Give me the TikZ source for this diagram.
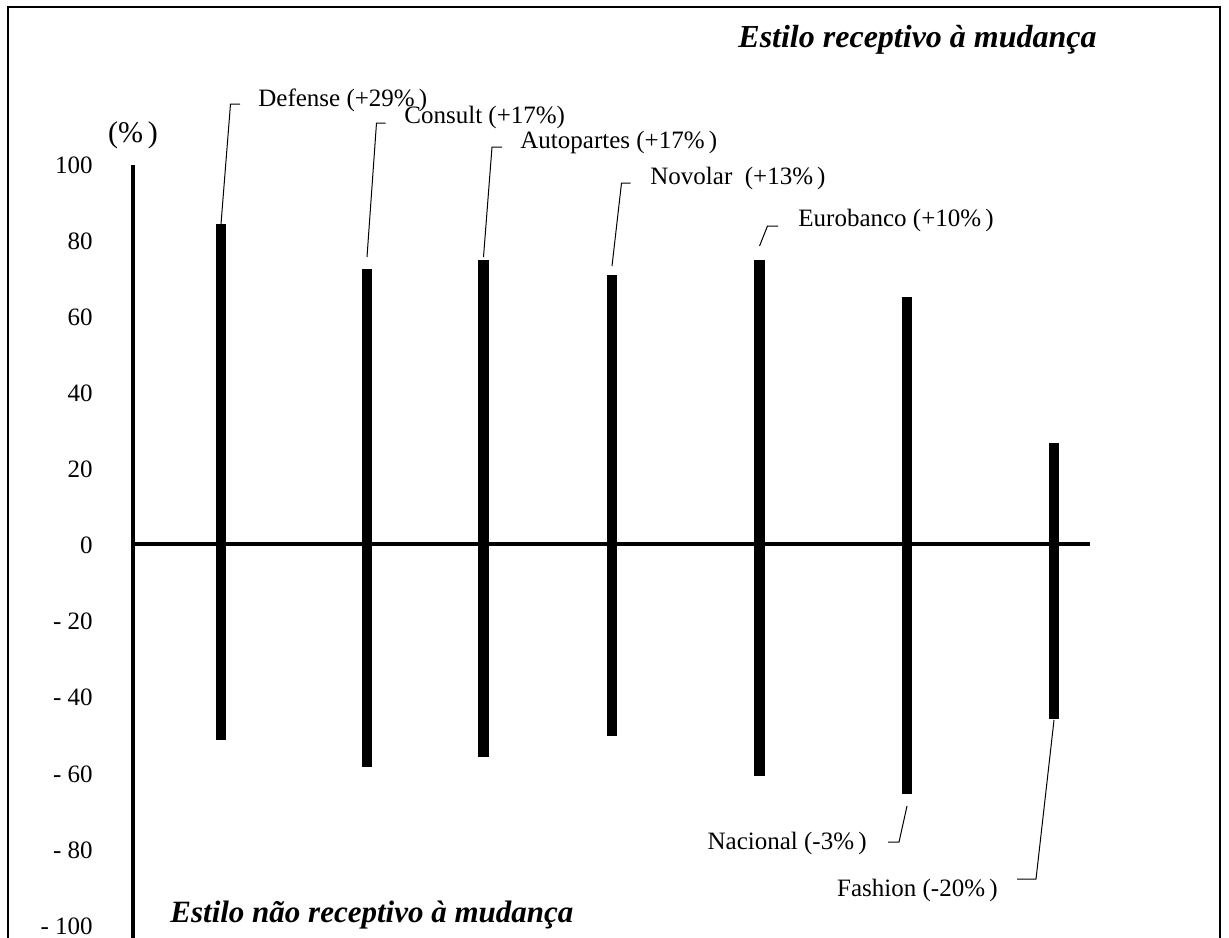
\documentclass[tikz,border=0pt]{standalone}
\usepackage{fontspec}
\setmainfont{Liberation Serif}

\tikzset{
  bar/.style = {line width = 5.2pt},
  axis/.style = {line width = 2pt},
  leader/.style = {line width = 0.5pt},
  firm/.style = {inner sep = 0pt, font = \fontsize{12.5}{15}\selectfont},
  tick/.style = {anchor = east, inner sep = 0pt, font = \fontsize{12.5}{15}\selectfont},
  styletitle/.style = {inner sep = 0pt, anchor = west,
    font = \fontsize{15.5}{18}\selectfont\bfseries\itshape}
}

\begin{document}
\begin{tikzpicture}[x = 0.5pt, y = -0.5pt]
\useasboundingbox (0, 0) rectangle (1229, 937);
%\draw [very thin, color = gray] (0, 0) grid [step = 50] (1229, 937);
\draw [line width = 1.1pt] (8, 7) rectangle (1220, 990);
\draw [axis] (133, 165) to (133, 990);
\draw [axis] (133, 544) to (1090, 544);
\node [firm, font = \fontsize{15}{18}\selectfont] (unit) at (133, 135) {(\%\,)};
\foreach \v/\t in {100/100, 80/80, 60/60, 40/40, 20/20, 0/0, -20/- 20, -40/- 40, -60/- 60, -80/- 80, -100/- 100}
  \node [tick] (t\v) at (93, {545.5 - 3.805*\v}) {\t};
% bars
\foreach \name/\x/\top/\bot in {defense/221/224/740, consult/367/269/767, autopartes/483.5/260/757,
    novolar/612/275/736, eurobanco/759.5/260/776, nacional/907/297/794, fashion/1054/443/719}
{
  \coordinate (\name top) at (\x, \top);
  \coordinate (\name bot) at (\x, \bot);
  \draw [bar] (\name top) to (\name bot);
}
\node [styletitle, font = \fontsize{16}{19}\selectfont\bfseries\itshape] (receptive) at (738, 40) {Estilo receptivo à mudança};
\node [styletitle] (resistant) at (170, 915) {Estilo não receptivo à mudança};
\node [firm, anchor = west] (defense) at (258, 100) {Defense (+29\%\,)};
\node [firm, anchor = west] (consult) at (404, 117) {Consult (+17\%)};
\node [firm, anchor = west] (autopartes) at (520, 142) {Autopartes (+17\%\,)};
\node [firm, anchor = west] (novolar) at (650, 178) {Novolar\ \ (+13\%\,)};
\node [firm, anchor = west] (eurobanco) at (798, 220) {Eurobanco (+10\%\,)};
\node [firm, anchor = east] (nacional) at (867, 843) {Nacional (-3\%\,)};
\node [firm, anchor = east] (fashion) at (998, 890) {Fashion (-20\%\,)};
\draw [leader] (defensetop) -- ++(9.5, -120) -- ++(9.5, 0);
\draw [leader] (consulttop) ++(0, -12) -- ++(9.5, -134) -- ++(9, 0);
\draw [leader] (autopartestop) ++(0, -3) -- ++(8.5, -110) -- ++(10, 0);
\draw [leader] (novolartop) ++(0, -9) -- ++(9.5, -83) -- ++(9, 0);
\draw [leader] (eurobancotop) ++(0, -14) -- ++(8, -20) -- ++(10.5, 0);
\draw [leader] (nacionalbot) ++(0, 12) -- ++(-8, 36) -- ++(-11, 0);
\draw [leader] (fashionbot) ++(0, 1) -- ++(-18, 159) -- ++(-19, 0);
\end{tikzpicture}
\end{document}
